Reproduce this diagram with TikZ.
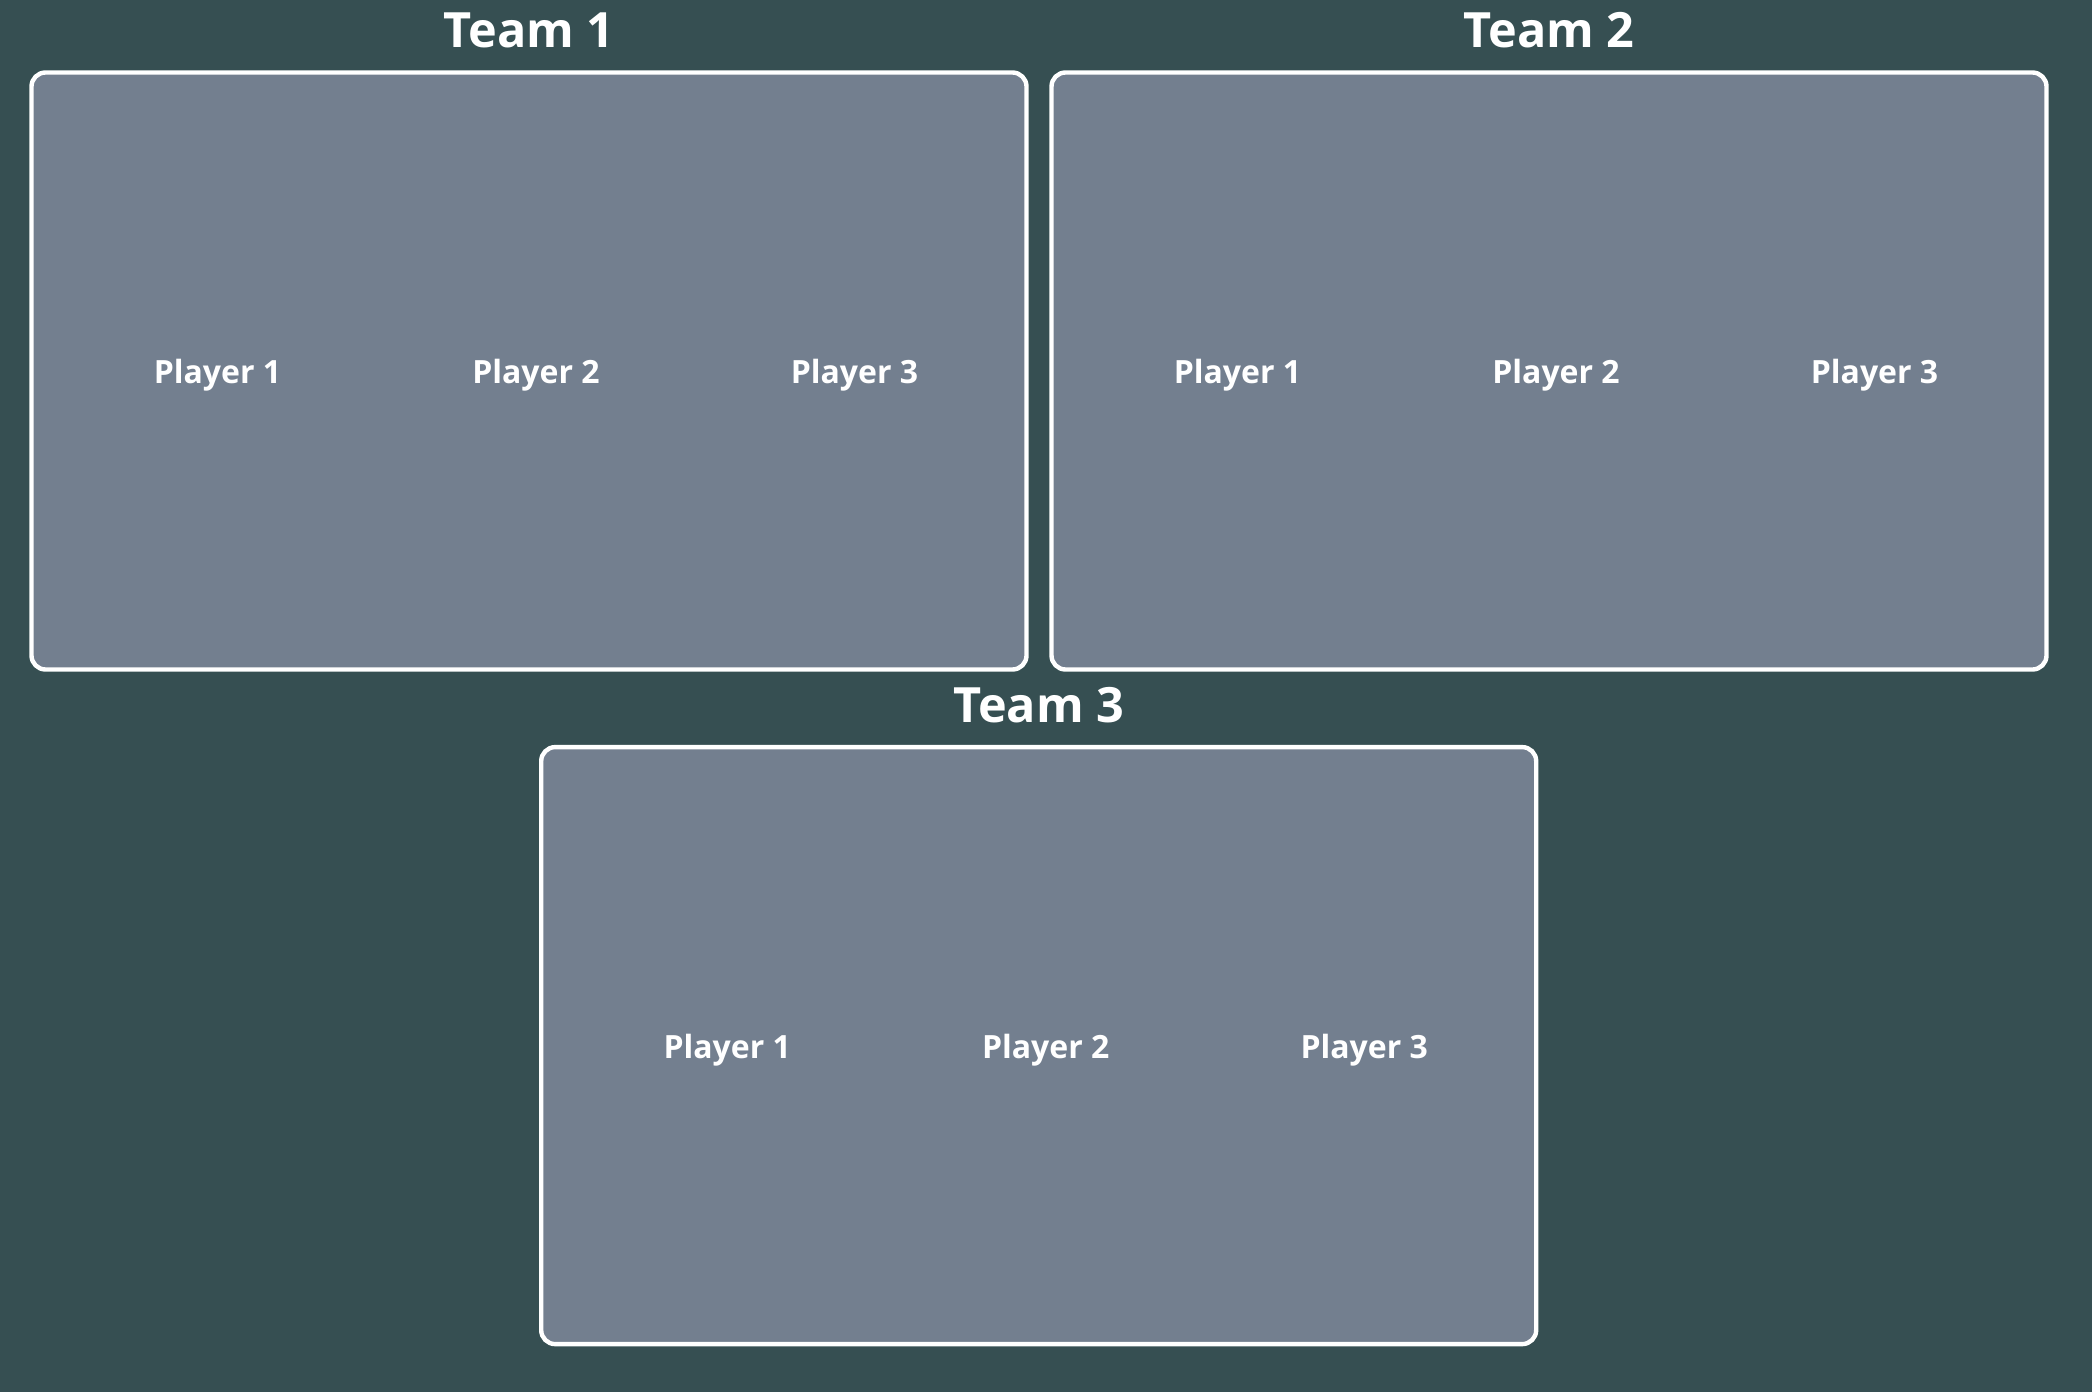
\documentclass[tikz,border=0pt]{standalone}
\usepackage{fontspec}
\setmainfont{Open Sans}
\usetikzlibrary{positioning}
\definecolor{boardbg}{RGB}{54,79,82}
\definecolor{teamfill}{RGB}{115,127,143}

\begin{document}
\begin{tikzpicture}[x=0.5pt,y=-0.5pt]
% Styles
\tikzstyle{team box}=[draw=white, fill=teamfill, line width=2.2pt,
  rounded corners=7pt, minimum width=497.5pt, minimum height=298.5pt,
  inner sep=0pt]
\tikzstyle{team title}=[text=white, inner sep=0pt,
  font=\bfseries\fontsize{24.3}{28}\selectfont]
\tikzstyle{player text}=[text=white, inner sep=0pt,
  font=\bfseries\fontsize{16}{19}\selectfont]
% The background
\fill[boardbg] (0,0) rectangle (2092,1392);
\useasboundingbox (0,0) rectangle (2092,1392);
% draw the team boxes, titles and players
\foreach \t / \x / \y in {1 / 529 / 371, 2 / 1549 / 371, 3 / 1038.7 / 1045.6} {
  \node[team box] (team\t) at (\x,\y) {};
  \node[team title] (title\t) at ([yshift=20pt]team\t.north) {Team \t};
  \foreach \p in {1,2,3} {
    \node[player text] (team\t-player\p)
      at ([xshift={(\p-2)*159.25pt+3.5pt},yshift=-2.3pt]team\t.center) {Player \p};
  }
}
\end{tikzpicture}
\end{document}
